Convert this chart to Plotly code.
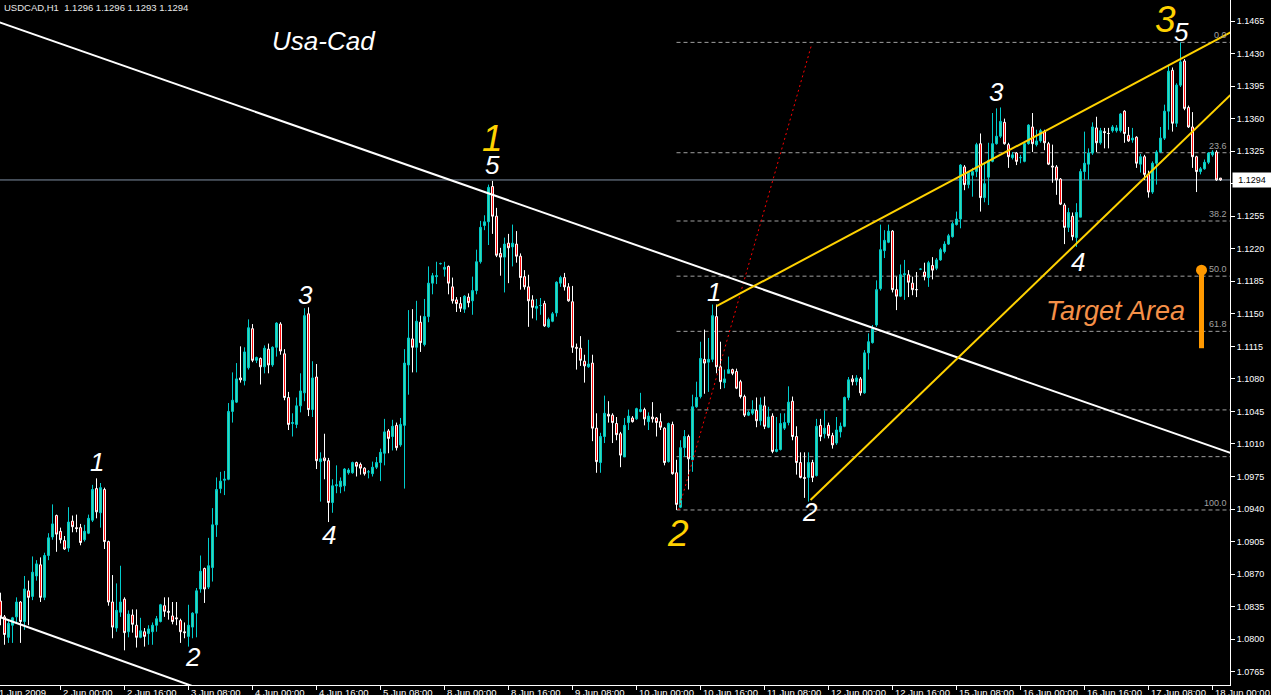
import plotly.graph_objects as go

# USDCAD H1, bar 0 = 1 Jun 2009 09:00 (weekend hours skipped)
opens = [
    1.0841, 1.0824, 1.0802, 1.0815, 1.0824, 1.0840, 1.0819, 1.0852, 1.0846, 1.0868,
    1.0880, 1.0845, 1.0890, 1.0910, 1.0933, 1.0916, 1.0906, 1.0898, 1.0927, 1.0920,
    1.0920, 1.0907, 1.0914, 1.0928, 1.0962, 1.0936, 1.0961, 1.0905, 1.0840, 1.0812,
    1.0829, 1.0843, 1.0808, 1.0826, 1.0815, 1.0802, 1.0808, 1.0806, 1.0808, 1.0815,
    1.0819, 1.0836, 1.0830, 1.0825, 1.0823, 1.0820, 1.0808, 1.0803, 1.0813, 1.0828,
    1.0854, 1.0876, 1.0856, 1.0877, 1.0923, 1.0962, 1.0971, 1.0972, 1.1045, 1.1055,
    1.1081, 1.1078, 1.1092, 1.1134, 1.1100, 1.1102, 1.1093, 1.1112, 1.1095, 1.1114,
    1.1139, 1.1107, 1.1060, 1.1032, 1.1031, 1.1051, 1.1065, 1.1150, 1.1047, 1.1082,
    1.0991, 1.0995, 1.0992, 1.0947, 1.0965, 1.0964, 1.0965, 1.0979, 1.0979, 1.0990,
    1.0988, 1.0984, 1.0980, 1.0978, 1.0985, 1.0990, 1.1000, 1.1024, 1.1018, 1.1030,
    1.1009, 1.1030, 1.1095, 1.1123, 1.1114, 1.1141, 1.1117, 1.1147, 1.1183, 1.1190,
    1.1204, 1.1198, 1.1201, 1.1179, 1.1165, 1.1161, 1.1155, 1.1168, 1.1164, 1.1175,
    1.1206, 1.1245, 1.1249, 1.1287, 1.1255, 1.1215, 1.1211, 1.1226, 1.1222, 1.1225,
    1.1212, 1.1190, 1.1179, 1.1165, 1.1156, 1.1159, 1.1161, 1.1136, 1.1142, 1.1151,
    1.1183, 1.1189, 1.1179, 1.1163, 1.1114, 1.1113, 1.1099, 1.1093, 1.1097, 1.1027,
    1.0990, 1.1018, 1.1042, 1.1041, 1.1032, 1.1021, 1.0996, 1.1033, 1.1038, 1.1037,
    1.1045, 1.1047, 1.1034, 1.1039, 1.1038, 1.1034, 1.1027, 1.0991, 1.1031, 1.0979,
    1.0942, 1.1006, 1.1018, 1.0993, 1.1050, 1.1061, 1.1101, 1.1098, 1.1101, 1.1147,
    1.1093, 1.1076, 1.1086, 1.1090, 1.1088, 1.1077, 1.1061, 1.1041, 1.1043, 1.1046,
    1.1035, 1.1051, 1.1028, 1.1040, 1.1002, 1.1004, 1.1027, 1.1033, 1.1056, 1.1018,
    1.0990, 1.0974, 1.0974, 1.0990, 1.0976, 1.1030, 1.1021, 1.1030, 1.1019, 1.1011,
    1.1023, 1.1029, 1.1060, 1.1080, 1.1077, 1.1080, 1.1065, 1.1108, 1.1119, 1.1138,
    1.1177, 1.1218, 1.1227, 1.1239, 1.1176, 1.1169, 1.1192, 1.1192, 1.1183, 1.1176,
    1.1198, 1.1195, 1.1189, 1.1202, 1.1199, 1.1208, 1.1217, 1.1225, 1.1233, 1.1246,
    1.1252, 1.1308, 1.1289, 1.1299, 1.1303, 1.1333, 1.1275, 1.1297, 1.1314, 1.1333,
    1.1341, 1.1356, 1.1332, 1.1318, 1.1323, 1.1318, 1.1314, 1.1333, 1.1351, 1.1332,
    1.1336, 1.1346, 1.1333, 1.1309, 1.1308, 1.1295, 1.1267, 1.1243, 1.1255, 1.1232,
    1.1254, 1.1303, 1.1311, 1.1323, 1.1350, 1.1334, 1.1346, 1.1344, 1.1347, 1.1347,
    1.1347, 1.1368, 1.1342, 1.1337, 1.1340, 1.1311, 1.1319, 1.1300, 1.1281, 1.1312,
    1.1324, 1.1339, 1.1368, 1.1412, 1.1355, 1.1396, 1.1422, 1.1372, 1.1351, 1.1319,
    1.1303, 1.1306, 1.1313, 1.1321, 1.1324, 1.1296,
]
highs = [
    1.0850, 1.0826, 1.0821, 1.0824, 1.0845, 1.0841, 1.0868, 1.0863, 1.0889, 1.0885,
    1.0888, 1.0893, 1.0914, 1.0945, 1.0934, 1.0920, 1.0911, 1.0942, 1.0933, 1.0934,
    1.0924, 1.0923, 1.0934, 1.0966, 1.0973, 1.0968, 1.0963, 1.0906, 1.0869, 1.0860,
    1.0879, 1.0845, 1.0831, 1.0832, 1.0832, 1.0823, 1.0812, 1.0815, 1.0818, 1.0825,
    1.0838, 1.0845, 1.0845, 1.0840, 1.0840, 1.0822, 1.0818, 1.0837, 1.0829, 1.0855,
    1.0890, 1.0877, 1.0909, 1.0941, 1.0974, 1.0980, 1.0981, 1.1054, 1.1087, 1.1097,
    1.1115, 1.1114, 1.1144, 1.1139, 1.1104, 1.1103, 1.1116, 1.1118, 1.1115, 1.1141,
    1.1141, 1.1112, 1.1066, 1.1043, 1.1060, 1.1086, 1.1156, 1.1157, 1.1099, 1.1096,
    1.1001, 1.1021, 1.0995, 1.0972, 1.0987, 1.0974, 1.0984, 1.0984, 1.0991, 1.0991,
    1.0990, 1.0985, 1.0982, 1.0991, 1.0996, 1.1005, 1.1037, 1.1026, 1.1036, 1.1033,
    1.1038, 1.1112, 1.1154, 1.1155, 1.1164, 1.1148, 1.1166, 1.1201, 1.1194, 1.1206,
    1.1205, 1.1206, 1.1202, 1.1189, 1.1168, 1.1168, 1.1170, 1.1172, 1.1190, 1.1219,
    1.1250, 1.1256, 1.1289, 1.1293, 1.1264, 1.1221, 1.1232, 1.1236, 1.1246, 1.1239,
    1.1215, 1.1197, 1.1192, 1.1170, 1.1166, 1.1167, 1.1164, 1.1146, 1.1152, 1.1185,
    1.1191, 1.1194, 1.1183, 1.1180, 1.1118, 1.1126, 1.1106, 1.1122, 1.1106, 1.1043,
    1.1022, 1.1062, 1.1056, 1.1043, 1.1039, 1.1023, 1.1038, 1.1047, 1.1040, 1.1049,
    1.1065, 1.1049, 1.1044, 1.1055, 1.1039, 1.1043, 1.1028, 1.1033, 1.1034, 1.0993,
    1.1014, 1.1025, 1.1020, 1.1063, 1.1077, 1.1120, 1.1133, 1.1124, 1.1160, 1.1160,
    1.1120, 1.1090, 1.1104, 1.1091, 1.1091, 1.1079, 1.1063, 1.1046, 1.1057, 1.1060,
    1.1060, 1.1061, 1.1050, 1.1043, 1.1039, 1.1043, 1.1043, 1.1072, 1.1061, 1.1029,
    1.1001, 1.1001, 1.1001, 1.0993, 1.1037, 1.1037, 1.1046, 1.1033, 1.1022, 1.1039,
    1.1033, 1.1061, 1.1082, 1.1084, 1.1084, 1.1082, 1.1111, 1.1129, 1.1138, 1.1186,
    1.1246, 1.1240, 1.1246, 1.1240, 1.1190, 1.1203, 1.1208, 1.1197, 1.1190, 1.1195,
    1.1199, 1.1205, 1.1207, 1.1211, 1.1210, 1.1221, 1.1228, 1.1236, 1.1249, 1.1260,
    1.1311, 1.1310, 1.1303, 1.1307, 1.1334, 1.1344, 1.1313, 1.1334, 1.1366, 1.1371,
    1.1372, 1.1360, 1.1334, 1.1324, 1.1324, 1.1321, 1.1334, 1.1354, 1.1366, 1.1348,
    1.1349, 1.1348, 1.1335, 1.1332, 1.1310, 1.1296, 1.1269, 1.1264, 1.1259, 1.1269,
    1.1306, 1.1346, 1.1328, 1.1356, 1.1362, 1.1350, 1.1350, 1.1350, 1.1353, 1.1353,
    1.1366, 1.1369, 1.1351, 1.1350, 1.1341, 1.1322, 1.1321, 1.1304, 1.1314, 1.1326,
    1.1351, 1.1375, 1.1418, 1.1415, 1.1398, 1.1442, 1.1424, 1.1374, 1.1367, 1.1320,
    1.1308, 1.1316, 1.1324, 1.1326, 1.1326, 1.1296,
]
lows = [
    1.0815, 1.0794, 1.0796, 1.0796, 1.0818, 1.0796, 1.0810, 1.0815, 1.0842, 1.0863,
    1.0840, 1.0842, 1.0885, 1.0907, 1.0894, 1.0903, 1.0896, 1.0894, 1.0915, 1.0915,
    1.0901, 1.0905, 1.0913, 1.0926, 1.0930, 1.0920, 1.0897, 1.0836, 1.0801, 1.0808,
    1.0824, 1.0788, 1.0802, 1.0807, 1.0791, 1.0801, 1.0792, 1.0794, 1.0794, 1.0808,
    1.0818, 1.0824, 1.0821, 1.0816, 1.0815, 1.0796, 1.0801, 1.0792, 1.0801, 1.0802,
    1.0850, 1.0839, 1.0854, 1.0862, 1.0910, 1.0957, 1.0955, 1.0971, 1.1033, 1.1054,
    1.1076, 1.1073, 1.1090, 1.1098, 1.1097, 1.1074, 1.1086, 1.1086, 1.1093, 1.1104,
    1.1106, 1.1057, 1.1025, 1.1018, 1.1027, 1.1044, 1.1056, 1.1040, 1.1039, 1.0983,
    1.0948, 1.0972, 1.0926, 1.0936, 1.0957, 1.0957, 1.0959, 1.0977, 1.0978, 1.0975,
    1.0977, 1.0976, 1.0973, 1.0975, 1.0983, 1.0970, 1.0987, 1.1000, 1.1003, 1.1003,
    1.1007, 1.0962, 1.1063, 1.1087, 1.1087, 1.1109, 1.1115, 1.1141, 1.1171, 1.1182,
    1.1203, 1.1190, 1.1171, 1.1161, 1.1152, 1.1152, 1.1151, 1.1157, 1.1149, 1.1171,
    1.1204, 1.1240, 1.1224, 1.1236, 1.1211, 1.1191, 1.1173, 1.1183, 1.1201, 1.1205,
    1.1176, 1.1176, 1.1136, 1.1145, 1.1143, 1.1149, 1.1136, 1.1135, 1.1141, 1.1147,
    1.1179, 1.1175, 1.1163, 1.1108, 1.1090, 1.1094, 1.1076, 1.1092, 1.1013, 1.0979,
    1.0979, 1.1011, 1.1033, 1.1011, 1.1014, 1.0985, 1.0996, 1.1025, 1.1033, 1.1036,
    1.1044, 1.1030, 1.1025, 1.1033, 1.1018, 1.1025, 1.0987, 1.0990, 1.0977, 1.0939,
    1.0941, 1.0996, 1.0961, 1.0980, 1.1049, 1.1059, 1.1064, 1.1066, 1.1098, 1.1086,
    1.1069, 1.1070, 1.1086, 1.1084, 1.1069, 1.1059, 1.1039, 1.1040, 1.1041, 1.1028,
    1.1030, 1.1026, 1.1027, 1.1000, 1.1001, 1.1003, 1.1025, 1.1030, 1.1014, 1.0977,
    1.0973, 1.0952, 1.0948, 1.0969, 1.0975, 1.1013, 1.1016, 1.1016, 1.1005, 1.1009,
    1.1017, 1.1028, 1.1057, 1.1073, 1.1073, 1.1062, 1.1064, 1.1090, 1.1118, 1.1136,
    1.1175, 1.1210, 1.1226, 1.1173, 1.1154, 1.1168, 1.1165, 1.1168, 1.1170, 1.1168,
    1.1197, 1.1186, 1.1179, 1.1187, 1.1197, 1.1207, 1.1215, 1.1224, 1.1232, 1.1245,
    1.1242, 1.1283, 1.1285, 1.1276, 1.1297, 1.1260, 1.1270, 1.1267, 1.1313, 1.1332,
    1.1339, 1.1332, 1.1307, 1.1316, 1.1310, 1.1312, 1.1313, 1.1332, 1.1324, 1.1330,
    1.1334, 1.1326, 1.1310, 1.1291, 1.1278, 1.1267, 1.1225, 1.1238, 1.1229, 1.1222,
    1.1254, 1.1294, 1.1294, 1.1321, 1.1324, 1.1332, 1.1328, 1.1328, 1.1345, 1.1345,
    1.1345, 1.1334, 1.1335, 1.1334, 1.1307, 1.1302, 1.1294, 1.1275, 1.1279, 1.1289,
    1.1323, 1.1337, 1.1348, 1.1346, 1.1351, 1.1394, 1.1369, 1.1350, 1.1307, 1.1281,
    1.1300, 1.1305, 1.1311, 1.1319, 1.1293, 1.1293,
]
closes = [
    1.0824, 1.0805, 1.0817, 1.0823, 1.0840, 1.0819, 1.0854, 1.0845, 1.0872, 1.0881,
    1.0845, 1.0890, 1.0909, 1.0924, 1.0913, 1.0907, 1.0897, 1.0926, 1.0921, 1.0919,
    1.0904, 1.0916, 1.0930, 1.0961, 1.0937, 1.0963, 1.0905, 1.0840, 1.0813, 1.0831,
    1.0840, 1.0807, 1.0827, 1.0816, 1.0802, 1.0809, 1.0803, 1.0811, 1.0815, 1.0822,
    1.0837, 1.0830, 1.0829, 1.0819, 1.0822, 1.0808, 1.0807, 1.0815, 1.0828, 1.0852,
    1.0873, 1.0854, 1.0879, 1.0923, 1.0961, 1.0970, 1.0972, 1.1045, 1.1057, 1.1080,
    1.1079, 1.1109, 1.1135, 1.1100, 1.1103, 1.1093, 1.1113, 1.1095, 1.1114, 1.1140,
    1.1110, 1.1060, 1.1031, 1.1033, 1.1051, 1.1067, 1.1148, 1.1047, 1.1081, 1.0992,
    1.0994, 1.0992, 1.0947, 1.0965, 1.0966, 1.0970, 1.0983, 1.0982, 1.0990, 1.0986,
    1.0984, 1.0978, 1.0980, 1.0985, 1.0990, 1.1001, 1.1023, 1.1016, 1.1029, 1.1006,
    1.1031, 1.1097, 1.1124, 1.1114, 1.1142, 1.1119, 1.1147, 1.1183, 1.1191, 1.1191,
    1.1204, 1.1200, 1.1183, 1.1164, 1.1161, 1.1156, 1.1169, 1.1162, 1.1175, 1.1206,
    1.1243, 1.1249, 1.1286, 1.1255, 1.1213, 1.1211, 1.1225, 1.1221, 1.1226, 1.1212,
    1.1189, 1.1179, 1.1164, 1.1157, 1.1158, 1.1159, 1.1137, 1.1144, 1.1150, 1.1184,
    1.1189, 1.1179, 1.1164, 1.1114, 1.1113, 1.1100, 1.1094, 1.1096, 1.1027, 1.0991,
    1.1018, 1.1043, 1.1040, 1.1033, 1.1020, 1.0998, 1.1030, 1.1040, 1.1034, 1.1048,
    1.1047, 1.1037, 1.1040, 1.1037, 1.1033, 1.1028, 1.0990, 1.1032, 1.0978, 1.0945,
    1.1006, 1.1018, 1.0994, 1.1050, 1.1060, 1.1102, 1.1097, 1.1101, 1.1148, 1.1093,
    1.1077, 1.1080, 1.1090, 1.1086, 1.1070, 1.1061, 1.1041, 1.1044, 1.1047, 1.1035,
    1.1052, 1.1029, 1.1039, 1.1002, 1.1004, 1.1032, 1.1033, 1.1055, 1.1018, 1.0990,
    1.0974, 1.0973, 1.0990, 1.0974, 1.1029, 1.1018, 1.1027, 1.1019, 1.1009, 1.1025,
    1.1029, 1.1060, 1.1079, 1.1077, 1.1081, 1.1065, 1.1108, 1.1120, 1.1134, 1.1176,
    1.1219, 1.1229, 1.1239, 1.1176, 1.1169, 1.1192, 1.1193, 1.1184, 1.1176, 1.1176,
    1.1198, 1.1190, 1.1205, 1.1197, 1.1208, 1.1219, 1.1225, 1.1234, 1.1247, 1.1252,
    1.1310, 1.1289, 1.1302, 1.1303, 1.1332, 1.1275, 1.1290, 1.1315, 1.1333, 1.1341,
    1.1357, 1.1333, 1.1319, 1.1321, 1.1314, 1.1318, 1.1333, 1.1353, 1.1333, 1.1336,
    1.1347, 1.1334, 1.1311, 1.1308, 1.1294, 1.1268, 1.1243, 1.1259, 1.1233, 1.1259,
    1.1303, 1.1312, 1.1323, 1.1351, 1.1334, 1.1347, 1.1345, 1.1344, 1.1351, 1.1350,
    1.1365, 1.1344, 1.1336, 1.1339, 1.1312, 1.1319, 1.1300, 1.1281, 1.1312, 1.1324,
    1.1339, 1.1368, 1.1411, 1.1355, 1.1396, 1.1421, 1.1371, 1.1351, 1.1319, 1.1303,
    1.1306, 1.1313, 1.1323, 1.1324, 1.1294, 1.1294,
]

time_tick_bars = [-1, 15, 31, 47, 63, 79, 95, 111, 127, 143, 159, 175, 191, 207,
                  223, 239, 255, 271, 287, 303]
time_tick_text = ["1 Jun 2009", "2 Jun 00:00", "2 Jun 16:00", "3 Jun 08:00",
                  "4 Jun 00:00", "4 Jun 16:00", "5 Jun 08:00", "8 Jun 00:00",
                  "8 Jun 16:00", "9 Jun 08:00", "10 Jun 00:00", "10 Jun 16:00",
                  "11 Jun 08:00", "12 Jun 00:00", "12 Jun 16:00", "15 Jun 08:00",
                  "16 Jun 00:00", "16 Jun 16:00", "17 Jun 08:00", "18 Jun 00:00"]
price_ticks = [1.0765, 1.0800, 1.0835, 1.0870, 1.0905, 1.0940, 1.0975, 1.1010,
               1.1045, 1.1080, 1.1115, 1.1150, 1.1185, 1.1220, 1.1255, 1.1290,
               1.1325, 1.1360, 1.1395, 1.1430, 1.1465]

bid_price = 1.1294

# fibonacci retracement from bar 169 low to bar 295 high
fib_start_bar = 169
fib_low = 1.0939
fib_high = 1.1442
fib_levels = [0.0, 23.6, 38.2, 50.0, 61.8, 78.6, 88.6, 100.0]
fib_labels = ["0.0", "23.6", "38.2", "50.0", "61.8", "", "", "100.0"]

# drawn trend lines: (bar, price) -> (bar, price)
white_lines = [((-0.25, 1.14636), (307.5, 1.10003)),
               ((-0.25, 1.08239), (49.75, 1.07468))]
yellow_lines = [((179.0, 1.11584), (307.5, 1.14528)),
                ((202.5, 1.09497), (307.5, 1.13854))]
red_dotted = ((169.5, 1.0939), (202.75, 1.14392))

target_bar = 300.25
target_top = 1.1197
target_bottom = 1.1113

# wave count labels
wave_text = ["1", "2", "3", "4", "5", "1", "2", "1", "2", "3", "4", "3", "5"]
wave_bar = [24.0, 48.0, 76.25, 82.0, 123.0, 123.0, 169.25, 178.25, 202.25,
            249.0, 269.25, 291.25, 295.25]
wave_price = [1.09906, 1.07809, 1.11703, 1.09121, 1.13101, 1.13381, 1.09132,
              1.11734, 1.09368, 1.13886, 1.12057, 1.14661, 1.14537]
wave_major = [False, False, False, False, False, True, True, False, False,
              False, False, True, False]

FONT = "Liberation Sans, Arial, sans-serif"
BULL_LINE = "#00CCCC"
BULL_FILL = "#3CDCB0"
YELLOW = "#FFD200"
ORANGE = "#FF9900"
X_RANGE = [-0.125, 307.375]   # 4 px per bar, candle centres on pixel centres

n = len(opens)
fig = go.Figure()
fig.add_trace(go.Candlestick(
    x=list(range(n)), open=opens, high=highs, low=lows, close=closes,
    increasing=dict(line=dict(color=BULL_LINE, width=1), fillcolor=BULL_FILL),
    decreasing=dict(line=dict(color="#FFFFFF", width=1), fillcolor="#FF0000"),
    whiskerwidth=0, hoverinfo="skip", showlegend=False,
))

shapes = []
# bid line
shapes.append(dict(type="line", xref="x", yref="y", x0=X_RANGE[0],
                   x1=X_RANGE[1], y0=bid_price, y1=bid_price, layer="below",
                   line=dict(color="#7F8FA3", width=1)))
# fib levels
for lvl in fib_levels:
    p = fib_high - lvl / 100.0 * (fib_high - fib_low)
    shapes.append(dict(type="line", xref="x", yref="y", x0=fib_start_bar,
                       x1=X_RANGE[1], y0=p, y1=p, layer="below",
                       line=dict(color="#A0A0A0", width=1, dash="4px,3px")))
shapes.append(dict(type="line", xref="x", yref="y",
                   x0=red_dotted[0][0], y0=red_dotted[0][1],
                   x1=red_dotted[1][0], y1=red_dotted[1][1],
                   line=dict(color="#FF0000", width=1, dash="2px,3px")))
for a, b in white_lines:
    shapes.append(dict(type="line", xref="x", yref="y", x0=a[0], y0=a[1],
                       x1=b[0], y1=b[1], line=dict(color="#FFFFFF", width=2)))
for a, b in yellow_lines:
    shapes.append(dict(type="line", xref="x", yref="y", x0=a[0], y0=a[1],
                       x1=b[0], y1=b[1], line=dict(color=YELLOW, width=2)))
shapes.append(dict(type="line", xref="x", yref="y", x0=target_bar,
                   x1=target_bar, y0=target_bottom, y1=target_top,
                   line=dict(color=ORANGE, width=5)))

fig.add_trace(go.Scatter(x=[target_bar], y=[target_top], mode="markers",
                         marker=dict(color=ORANGE, size=11),
                         hoverinfo="skip", showlegend=False))

ann = []
ann.append(dict(xref="paper", yref="paper", x=0, y=1, xanchor="left",
                yanchor="top", xshift=2, showarrow=False,
                text="USDCAD,H1  1.1296 1.1296 1.1293 1.1294",
                font=dict(family=FONT, size=9.5, color="#E8E8E8")))
for b, t in zip(time_tick_bars, time_tick_text):
    ann.append(dict(xref="x", yref="paper", x=max(b, 0), y=0, xanchor="left",
                    yanchor="top", xshift=-4 if b < 0 else 0, yshift=0,
                    showarrow=False, text=t,
                    font=dict(family=FONT, size=9.5, color="#FFFFFF")))
for lvl, lab in zip(fib_levels, fib_labels):
    if not lab:
        continue
    p = fib_high - lvl / 100.0 * (fib_high - fib_low)
    ann.append(dict(xref="x", yref="y", x=307, y=p, xanchor="right",
                    yanchor="bottom", showarrow=False, text=lab,
                    font=dict(family=FONT, size=9, color="#A0A0A0")))
for t, b, p, big in zip(wave_text, wave_bar, wave_price, wave_major):
    ann.append(dict(xref="x", yref="y", x=b, y=p, showarrow=False,
                    text="<i>%s</i>" % t,
                    font=dict(family=FONT, size=37 if big else 26,
                              color=YELLOW if big else "#FFFFFF")))
ann.append(dict(xref="x", yref="y", x=80.75, y=1.1443, showarrow=False,
                text="<i>Usa-Cad</i>",
                font=dict(family=FONT, size=26, color="#FFFFFF")))
ann.append(dict(xref="x", yref="y", x=278.75, y=1.1153, showarrow=False,
                text="<i>Target Area</i>",
                font=dict(family=FONT, size=27, color="#F59048")))
ann.append(dict(xref="paper", yref="y", x=1, y=bid_price, xanchor="left",
                xshift=2, showarrow=False, text="1.1294", bgcolor="#FFFFFF",
                width=36, height=12, borderpad=1,
                font=dict(family=FONT, size=9, color="#000000")))

fig.update_layout(
    width=1271, height=695, autosize=False,
    margin=dict(l=0, r=41, t=0, b=10),
    paper_bgcolor="#000000", plot_bgcolor="#000000",
    showlegend=False, shapes=shapes, annotations=ann,
    xaxis=dict(range=X_RANGE, rangeslider=dict(visible=False),
               showgrid=False, zeroline=False, showline=True,
               linecolor="#FFFFFF", linewidth=1, ticks="outside",
               tickvals=time_tick_bars[1:], ticklen=4, tickcolor="#FFFFFF",
               showticklabels=False, automargin=False),
    yaxis=dict(side="right", range=[1.075071, 1.148759], showgrid=False,
               zeroline=False, showline=True, linecolor="#FFFFFF",
               linewidth=1, ticks="outside", ticklen=4, tickcolor="#FFFFFF",
               tickvals=price_ticks,
               ticktext=["%.4f" % v for v in price_ticks],
               tickfont=dict(family=FONT, size=9, color="#FFFFFF"),
               automargin=False),
)

# page body has a default 8px margin; drop it so the chart fills the window
page_fix = ("document.body.style.margin='0';"
            "document.body.style.background='#000';"
            "document.body.style.overflow='hidden';")
fig.write_html("out.html", post_script=page_fix,
               config={"displayModeBar": False})
